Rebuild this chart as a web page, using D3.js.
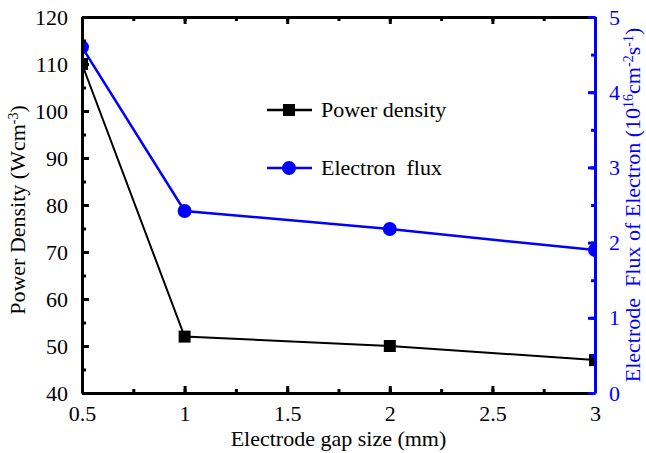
<!DOCTYPE html>
<html>
<head>
<meta charset="utf-8">
<script src="https://cdn.jsdelivr.net/npm/d3@7"></script>
<style>
  body { margin: 0; background: #fff; }
</style>
</head>
<body>
<div id="chart"></div>
<script>
const gapSizes = [0.5, 1, 2, 3];
const powerDensity = [110, 52, 50, 47];
const electronFlux = [4.6, 2.42, 2.18, 1.9];
const xTicks = [0.5, 1, 1.5, 2, 2.5, 3];
const yLeftTicks = [40, 50, 60, 70, 80, 90, 100, 110, 120];
const yRightTicks = [0, 1, 2, 3, 4, 5];
const legendLabels = ['Power density', 'Electron\u00a0 flux'];

const W = 646, H = 453;
const margin = { left: 82, right: 51, top: 17, bottom: 60 };
const blue = '#0000ff';
const serif = 'Liberation Serif';

const svg = d3.select('#chart').append('svg')
  .attr('width', W)
  .attr('height', H)
  .attr('font-family', serif);

const x = d3.scaleLinear().domain([0.5, 3]).range([margin.left, W - margin.right]);
const yL = d3.scaleLinear().domain([40, 120]).range([H - margin.bottom, margin.top]);
const yR = d3.scaleLinear().domain([0, 5]).range([H - margin.bottom, margin.top]);

svg.append('clipPath').attr('id', 'plotClip')
  .append('rect')
  .attr('x', margin.left).attr('y', margin.top)
  .attr('width', W - margin.left - margin.right)
  .attr('height', H - margin.top - margin.bottom);

// data
const plot = svg.append('g').attr('clip-path', 'url(#plotClip)');

const pdPts = gapSizes.map((g, i) => [g, powerDensity[i]]);
const efPts = gapSizes.map((g, i) => [g, electronFlux[i]]);

plot.append('path')
  .datum(pdPts)
  .attr('fill', 'none')
  .attr('stroke', '#000')
  .attr('stroke-width', 2)
  .attr('d', d3.line().x(d => x(d[0])).y(d => yL(d[1])));

plot.append('path')
  .datum(efPts)
  .attr('fill', 'none')
  .attr('stroke', blue)
  .attr('stroke-width', 2.5)
  .attr('d', d3.line().x(d => x(d[0])).y(d => yR(d[1])));

plot.selectAll('.sq')
  .data(pdPts)
  .join('rect')
  .attr('x', d => x(d[0]) - 6)
  .attr('y', d => yL(d[1]) - 6)
  .attr('width', 12)
  .attr('height', 12)
  .attr('fill', '#000');

plot.selectAll('.dot')
  .data(efPts)
  .join('circle')
  .attr('cx', d => x(d[0]))
  .attr('cy', d => yR(d[1]))
  .attr('r', 7)
  .attr('fill', blue);

// axes
const axisStyle = (g, color) => {
  g.attr('font-family', serif).attr('font-size', 22);
  g.select('.domain').attr('stroke', color).attr('stroke-width', 3);
  g.selectAll('.tick line').attr('stroke', color).attr('stroke-width', 3);
  g.selectAll('.tick text').attr('fill', color);
};

const xMinor = d3.range(0.5, 3.01, 0.25);
const yLMinor = d3.range(40, 120.1, 5);
const yRMinor = d3.range(0, 5.01, 0.5);

// minor ticks
svg.append('g')
  .attr('transform', `translate(0,${H - margin.bottom})`)
  .call(d3.axisBottom(x).tickValues(xMinor).tickSize(-4).tickFormat(''))
  .call(g => axisStyle(g, '#000'))
  .call(g => g.select('.domain').remove());

svg.append('g')
  .attr('transform', `translate(0,${margin.top})`)
  .call(d3.axisTop(x).tickValues(xMinor).tickSize(-4).tickFormat(''))
  .call(g => axisStyle(g, '#000'))
  .call(g => g.select('.domain').remove());

svg.append('g')
  .attr('transform', `translate(${margin.left},0)`)
  .call(d3.axisLeft(yL).tickValues(yLMinor).tickSize(-4).tickFormat(''))
  .call(g => axisStyle(g, '#000'))
  .call(g => g.select('.domain').remove());

svg.append('g')
  .attr('transform', `translate(${W - margin.right},0)`)
  .call(d3.axisRight(yR).tickValues(yRMinor).tickSize(-4).tickFormat(''))
  .call(g => axisStyle(g, blue))
  .call(g => g.select('.domain').remove());

// major axes
svg.append('g')
  .attr('transform', `translate(0,${margin.top})`)
  .call(d3.axisTop(x).tickValues(xTicks).tickSize(-7).tickSizeOuter(0).tickFormat(''))
  .call(g => axisStyle(g, '#000'));

svg.append('g')
  .attr('transform', `translate(0,${H - margin.bottom})`)
  .call(d3.axisBottom(x).tickValues(xTicks).tickSize(-7).tickSizeOuter(0).tickPadding(12).tickFormat(d3.format('')))
  .call(g => axisStyle(g, '#000'));

svg.append('g')
  .attr('transform', `translate(${margin.left},0)`)
  .call(d3.axisLeft(yL).tickValues(yLeftTicks).tickSize(-7).tickSizeOuter(0).tickPadding(14))
  .call(g => axisStyle(g, '#000'));

svg.append('g')
  .attr('transform', `translate(${W - margin.right},0)`)
  .call(d3.axisRight(yR).tickValues(yRightTicks).tickSize(-7).tickSizeOuter(0).tickPadding(14).tickFormat(d3.format('d')))
  .call(g => axisStyle(g, blue));

// axis titles
svg.append('text')
  .attr('x', (margin.left + W - margin.right) / 2)
  .attr('y', H - 7)
  .attr('text-anchor', 'middle')
  .attr('font-size', 22)
  .text('Electrode gap size (mm)');

svg.append('text')
  .attr('transform', `translate(25,${(margin.top + H - margin.bottom) / 2 + 5}) rotate(-90)`)
  .attr('text-anchor', 'middle')
  .attr('font-size', 22)
  .html('Power Density (Wcm<tspan baseline-shift="super" font-size="14">-3</tspan>)');

svg.append('text')
  .attr('transform', `translate(640,${(margin.top + H - margin.bottom) / 2}) rotate(-90)`)
  .attr('text-anchor', 'middle')
  .attr('fill', blue)
  .attr('font-size', 22)
  .html('Electrode&#160; Flux of Electron (10<tspan baseline-shift="super" font-size="14">16</tspan>cm<tspan baseline-shift="super" font-size="14">-2</tspan>s<tspan baseline-shift="super" font-size="14">-1</tspan>)');

// legend
const legend = svg.append('g');
const legendY = [110, 168];
const legendColor = ['#000', blue];

legendLabels.forEach((lab, i) => {
  const g = legend.append('g').attr('transform', `translate(267,${legendY[i]})`);
  g.append('line')
    .attr('x1', 0).attr('x2', 45)
    .attr('stroke', legendColor[i])
    .attr('stroke-width', 2.5);
  if (i === 0) {
    g.append('rect').attr('x', 16).attr('y', -6).attr('width', 12).attr('height', 12).attr('fill', '#000');
  } else {
    g.append('circle').attr('cx', 22).attr('r', 7).attr('fill', blue);
  }
  g.append('text')
    .attr('x', 54)
    .attr('y', 7)
    .attr('font-size', 22)
    .text(lab);
});
</script>
</body>
</html>
